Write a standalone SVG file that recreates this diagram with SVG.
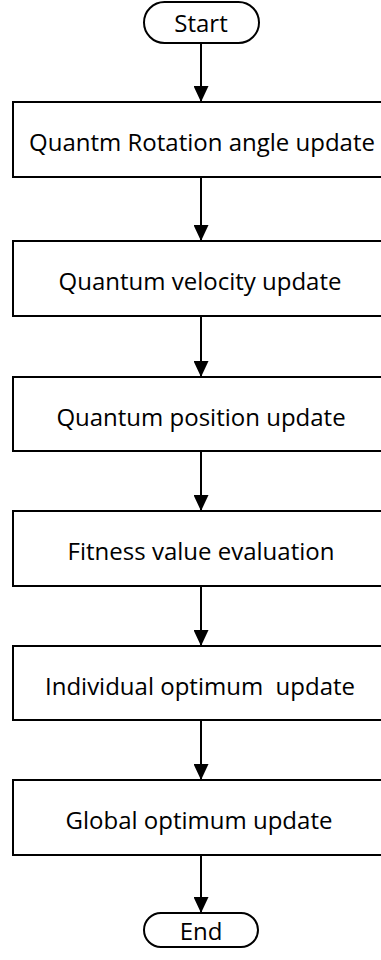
<svg xmlns="http://www.w3.org/2000/svg" width="381" height="960" viewBox="0 0 381 960">
  <style>
    .shape { fill: #ffffff; stroke: #000000; stroke-width: 2; }
    .label { font-family: "Open Sans", "Noto Sans", sans-serif; font-size: 24px; fill: #000000; text-anchor: middle; }
    .edge { stroke: #000000; stroke-width: 2; fill: none; marker-end: url(#arrow); }
  </style>
  <defs>
    <marker id="arrow" markerWidth="16" markerHeight="15" refX="16" refY="7.5" orient="auto" markerUnits="userSpaceOnUse">
      <path d="M0,0 L16,7.5 L0,15 Z" fill="#000000"/>
    </marker>
  </defs>

  <!-- connectors -->
  <g id="connectors">
    <line class="edge" x1="201" y1="43" x2="201" y2="102"/>
    <line class="edge" x1="201" y1="177" x2="201" y2="241"/>
    <line class="edge" x1="201" y1="316" x2="201" y2="377"/>
    <line class="edge" x1="201" y1="451" x2="201" y2="511"/>
    <line class="edge" x1="201" y1="586" x2="201" y2="646"/>
    <line class="edge" x1="201" y1="720" x2="201" y2="780"/>
    <line class="edge" x1="201" y1="855" x2="201" y2="913"/>
  </g>

  <g id="start">
    <rect class="shape" x="144" y="2" width="115" height="41" rx="20.5" ry="20.5"/>
    <text class="label" x="201" y="32">Start</text>
  </g>

  <g id="rotation-angle">
    <rect class="shape" x="13" y="102" width="376" height="75"/>
    <text class="label" x="202" y="151">Quantm Rotation angle update</text>
  </g>

  <g id="velocity">
    <rect class="shape" x="13" y="241" width="376" height="75"/>
    <text class="label" x="200" y="290">Quantum velocity update</text>
  </g>

  <g id="position">
    <rect class="shape" x="13" y="377" width="376" height="74"/>
    <text class="label" x="201" y="426">Quantum position update</text>
  </g>

  <g id="fitness">
    <rect class="shape" x="13" y="511" width="376" height="75"/>
    <text class="label" x="201" y="560">Fitness value evaluation</text>
  </g>

  <g id="individual-optimum">
    <rect class="shape" x="13" y="646" width="376" height="74"/>
    <text class="label" x="200" y="695" xml:space="preserve">Individual optimum  update</text>
  </g>

  <g id="global-optimum">
    <rect class="shape" x="13" y="780" width="376" height="75"/>
    <text class="label" x="199" y="829">Global optimum update</text>
  </g>

  <g id="end">
    <rect class="shape" x="144" y="913" width="114" height="34" rx="17" ry="17"/>
    <text class="label" x="201" y="940">End</text>
  </g>
</svg>
